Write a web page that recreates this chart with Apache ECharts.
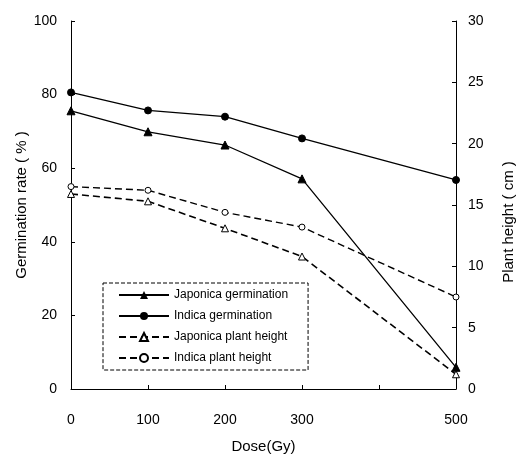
<!DOCTYPE html>
<html>
<head>
<meta charset="utf-8">
<script src="https://cdn.jsdelivr.net/npm/echarts@6/dist/echarts.min.js"></script>
<style>html,body{margin:0;padding:0;background:#fff;}#c{width:520px;height:459px;}</style>
</head>
<body>
<div id="c"></div>
<script>
var doses = [0, 100, 200, 300, 500];
var japonicaGermination = [75.6, 69.9, 66.3, 57.1, 5.9];
var indicaGermination = [80.6, 75.7, 74.0, 68.1, 56.8];
var japonicaPlantHeight = [15.9, 15.3, 13.1, 10.8, 1.2];
var indicaPlantHeight = [16.5, 16.2, 14.4, 13.2, 7.5];
var xTickLabels = ['0', '100', '200', '300', '', '500'];

function pairs(xs, ys) { return xs.map(function (x, i) { return [x, ys[i]]; }); }

var font = 'Liberation Sans, Arial, sans-serif';
var chart = echarts.init(document.getElementById('c'), null, {renderer: 'canvas'});
var axisCommon = {
  axisLine: {show: true, lineStyle: {color: '#000', width: 1}},
  axisTick: {show: true, inside: true, length: 4, lineStyle: {color: '#000'}},
  splitLine: {show: false},
  nameMoveOverlap: false
};
function merge(a, b) { var o = {}; for (var k in a) o[k] = a[k]; for (var k2 in b) o[k2] = b[k2]; return o; }

chart.setOption({
  animation: false,
  backgroundColor: '#fff',
  grid: {left: 71, right: 64, top: 21, bottom: 70, containLabel: false, outerBoundsMode: 'none'},
  legend: {
    orient: 'vertical', left: 103, top: 283,
    padding: [5, 20, 5, 15], itemGap: 7, itemWidth: 50, itemHeight: 10,
    borderColor: '#000', borderWidth: 1, borderType: 'dashed',
    textStyle: {color: '#000', fontSize: 12, fontFamily: font, lineHeight: 14},
    data: ['Japonica germination', 'Indica germination', 'Japonica plant height', 'Indica plant height']
  },
  xAxis: merge(axisCommon, {
    type: 'value', min: 0, max: 500, interval: 100,
    name: 'Dose(Gy)', nameLocation: 'middle', nameGap: 50,
    nameTextStyle: {color: '#000', fontSize: 15, fontFamily: font},
    axisLabel: {color: '#000', fontSize: 14, fontFamily: font, margin: 24,
      formatter: function (v) { return xTickLabels[Math.round(v / 100)]; }}
  }),
  yAxis: [
    merge(axisCommon, {
      type: 'value', min: 0, max: 100, interval: 20,
      name: 'Germination rate ( % )', nameLocation: 'middle', nameGap: 42, nameRotate: 90,
      nameTextStyle: {color: '#000', fontSize: 15, fontFamily: font},
      axisLabel: {color: '#000', fontSize: 14, fontFamily: font, margin: 14}
    }),
    merge(axisCommon, {
      type: 'value', min: 0, max: 30, interval: 5, position: 'right',
      name: 'Plant height ( cm )', nameLocation: 'middle', nameGap: 45, nameRotate: 90,
      nameTextStyle: {color: '#000', fontSize: 15, fontFamily: font, padding: [0, 34, 0, 0]},
      axisLabel: {color: '#000', fontSize: 14, fontFamily: font, margin: 12}
    })
  ],
  series: [
    {name: 'Japonica germination', type: 'line', yAxisIndex: 0, data: pairs(doses, japonicaGermination),
     symbol: 'triangle', symbolSize: 8, lineStyle: {color: '#000', width: 1.3}, itemStyle: {color: '#000', borderColor: '#000'}},
    {name: 'Indica germination', type: 'line', yAxisIndex: 0, data: pairs(doses, indicaGermination),
     symbol: 'circle', symbolSize: 7, lineStyle: {color: '#000', width: 1.3}, itemStyle: {color: '#000', borderColor: '#000'}},
    {name: 'Japonica plant height', type: 'line', yAxisIndex: 1, data: pairs(doses, japonicaPlantHeight),
     symbol: 'triangle', symbolSize: 7, lineStyle: {color: '#000', width: 1.6, type: [7, 4]}, itemStyle: {color: '#fff', borderColor: '#000', borderWidth: 1}},
    {name: 'Indica plant height', type: 'line', yAxisIndex: 1, data: pairs(doses, indicaPlantHeight),
     symbol: 'circle', symbolSize: 6, lineStyle: {color: '#000', width: 1.4, type: [7, 4]}, itemStyle: {color: '#fff', borderColor: '#000', borderWidth: 1}}
  ]
});
</script>
</body>
</html>
